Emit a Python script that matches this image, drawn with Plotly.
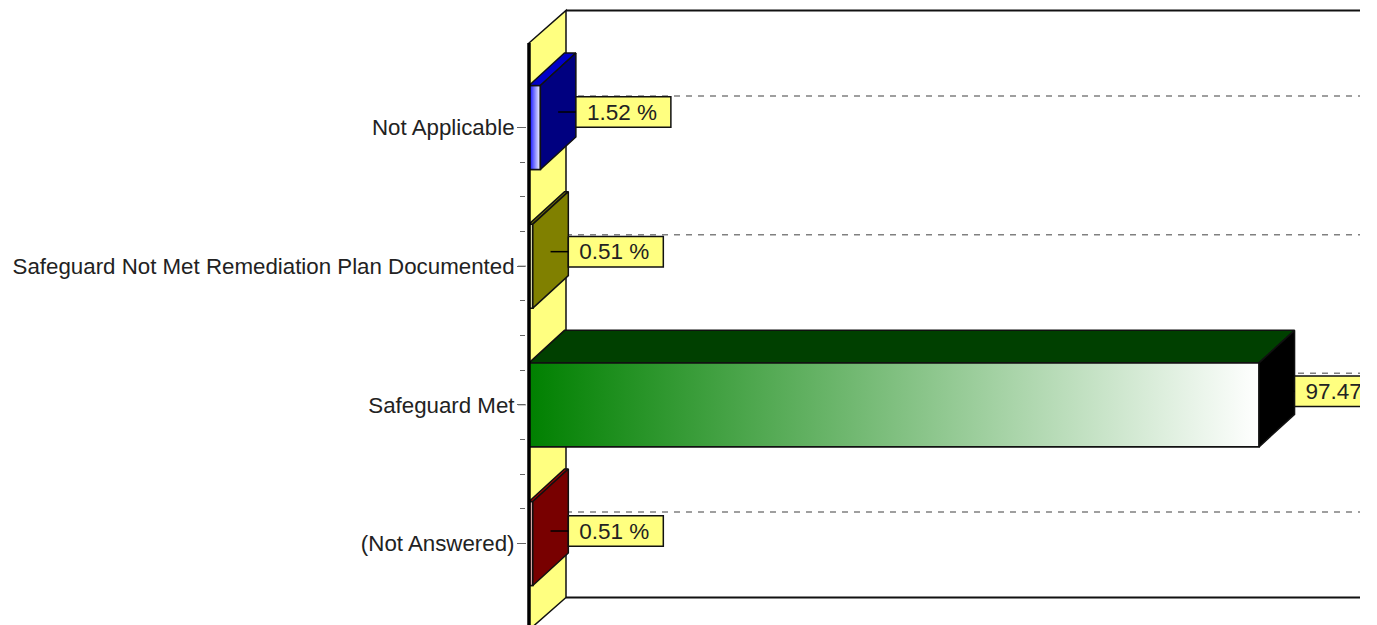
import plotly.graph_objects as go

CATEGORIES = ["Not Applicable", "Safeguard Not Met Remediation Plan Documented", "Safeguard Met", "(Not Answered)"]
VALUES = [1.52, 0.51, 97.47, 0.51]
FRONT_COLORS = ["#0000FF", "#808000", "#008000", "#800000"]
TOP_COLORS = ["#0000C8", "#6E6E00", "#004000", "#A00000"]
SIDE_COLORS = ["#000080", "#808000", "#000000", "#780000"]

# Page geometry (pixels) and scale
W, H = 1377, 625
PLOT_L, PLOT_R = 526, 1360
ZERO_PX = 529.0
PX_PER_UNIT = 7.49
PX_PER_CAT = 138.67
CAT0_PX = 127.5

ux = lambda px: px / PX_PER_UNIT
uy = lambda px: px / PX_PER_CAT

DX, DY = ux(35.5), uy(32.5)
WALL_DX = ux(37)
BAR_H = uy(84)
WALL_TOP, WALL_BOT = uy(43 - CAT0_PX), uy(630 - CAT0_PX)
X_RANGE = [ux(PLOT_L - ZERO_PX), ux(PLOT_R - ZERO_PX)]
Y_RANGE = [uy(H - CAT0_PX), uy(0 - CAT0_PX)]
X_END = X_RANGE[1]
IDX = list(range(len(CATEGORIES)))
INK = "#111111"

fig = go.Figure()
shapes = []

# Back wall, side wall and gridlines
shapes.append(dict(type="path", layer="below", xref="x", yref="y", fillcolor="#FFFF80",
                   line=dict(color=INK, width=1.5),
                   path=f"M0,{WALL_TOP} L{WALL_DX},{WALL_TOP-DY} L{WALL_DX},{WALL_BOT-DY} L0,{WALL_BOT} Z"))
for yy in (WALL_TOP - DY, WALL_BOT - DY):
    shapes.append(dict(type="line", layer="below", xref="x", yref="y", x0=WALL_DX, x1=X_END, y0=yy, y1=yy,
                       line=dict(color=INK, width=2)))
for i in IDX:
    yy = i - uy(31.5)
    shapes.append(dict(type="line", layer="below", xref="x", yref="y", x0=WALL_DX, x1=X_END, y0=yy, y1=yy,
                       line=dict(color="#808080", width=1.5, dash="6px,6px")))
    # Major tick on the category axis
    shapes.append(dict(type="line", layer="below", xref="paper", yref="y",
                       x0=-8 / (PLOT_R - PLOT_L), x1=0, y0=i, y1=i,
                       line=dict(color="#666666", width=1)))
# Front axis line
shapes.append(dict(type="line", layer="above", xref="x", yref="y", x0=0, x1=0, y0=WALL_TOP, y1=WALL_BOT,
                   line=dict(color="#000000", width=3.5)))

# Front faces
fig.add_trace(go.Bar(orientation="h", x=VALUES, y=IDX, base=0, width=BAR_H,
                     marker=dict(color=FRONT_COLORS, line=dict(color=INK, width=1.5)),
                     hoverinfo="skip"))


def poly(xs, ys, fill, gradient=None):
    kw = dict(fillgradient=gradient) if gradient else dict(fillcolor=fill)
    fig.add_trace(go.Scatter(x=xs + xs[:1], y=ys + ys[:1], mode="lines", fill="toself",
                             line=dict(color=INK, width=1.5), hoverinfo="skip", **kw))


BOX_W, BOX_H = ux(95), uy(30.5)
label_x, label_y, label_text = [], [], []
for i, v in zip(IDX, VALUES):
    t, b = i - BAR_H / 2, i + BAR_H / 2
    # front gradient
    poly([0, v, v, 0], [t, t, b, b], None,
         dict(type="horizontal", colorscale=[[0, FRONT_COLORS[i]], [1, "#FFFFFF"]]))
    # top face
    poly([0, v, v + DX, DX], [t, t, t - DY, t - DY], TOP_COLORS[i])
    # side face
    poly([v, v + DX, v + DX, v], [t, t - DY, b - DY, b], SIDE_COLORS[i])
    # label box and leader line
    cy = i - uy(15.5 - i)
    bx = v + DX
    poly([bx, bx + BOX_W, bx + BOX_W, bx], [cy - BOX_H / 2, cy - BOX_H / 2, cy + BOX_H / 2, cy + BOX_H / 2], "#FFFF80")
    fig.add_trace(go.Scatter(x=[v + DX / 2, bx], y=[cy, cy], mode="lines",
                             line=dict(color="#000000", width=1.5), hoverinfo="skip"))
    label_x.append(bx + ux(11))
    label_y.append(cy + uy(2))
    label_text.append(f"{v:.2f} %")

fig.add_trace(go.Scatter(x=label_x, y=label_y, text=label_text, mode="text", textposition="middle right",
                         textfont=dict(family="Liberation Sans", size=22.5, color="#222222"),
                         cliponaxis=True, hoverinfo="skip"))

fig.update_layout(
    width=W, height=H, showlegend=False, paper_bgcolor="white", plot_bgcolor="white",
    margin=dict(l=PLOT_L, r=W - PLOT_R, t=0, b=0, pad=0), shapes=shapes,
    xaxis=dict(range=X_RANGE, visible=False, showgrid=False, zeroline=False),
    yaxis=dict(range=Y_RANGE, tickmode="array", tickvals=IDX, ticktext=CATEGORIES,
               ticks="outside", ticklen=8, tickwidth=1, tickcolor="#666666", showline=False,
               showgrid=False, zeroline=False, ticklabelstandoff=-2,
               tickfont=dict(family="Liberation Sans", size=22.3, color="#222222"),
               minor=dict(tickmode="array", tickvals=[i + k / 4 for i in IDX[:-1] for k in (1, 2, 3)],
                          ticks="outside", ticklen=5, tickwidth=1, tickcolor="#666666", showgrid=False)),
)

fig.write_html("out.html", config={"displayModeBar": False},
               post_script="document.body.style.margin='0';document.body.style.overflow='hidden';")
